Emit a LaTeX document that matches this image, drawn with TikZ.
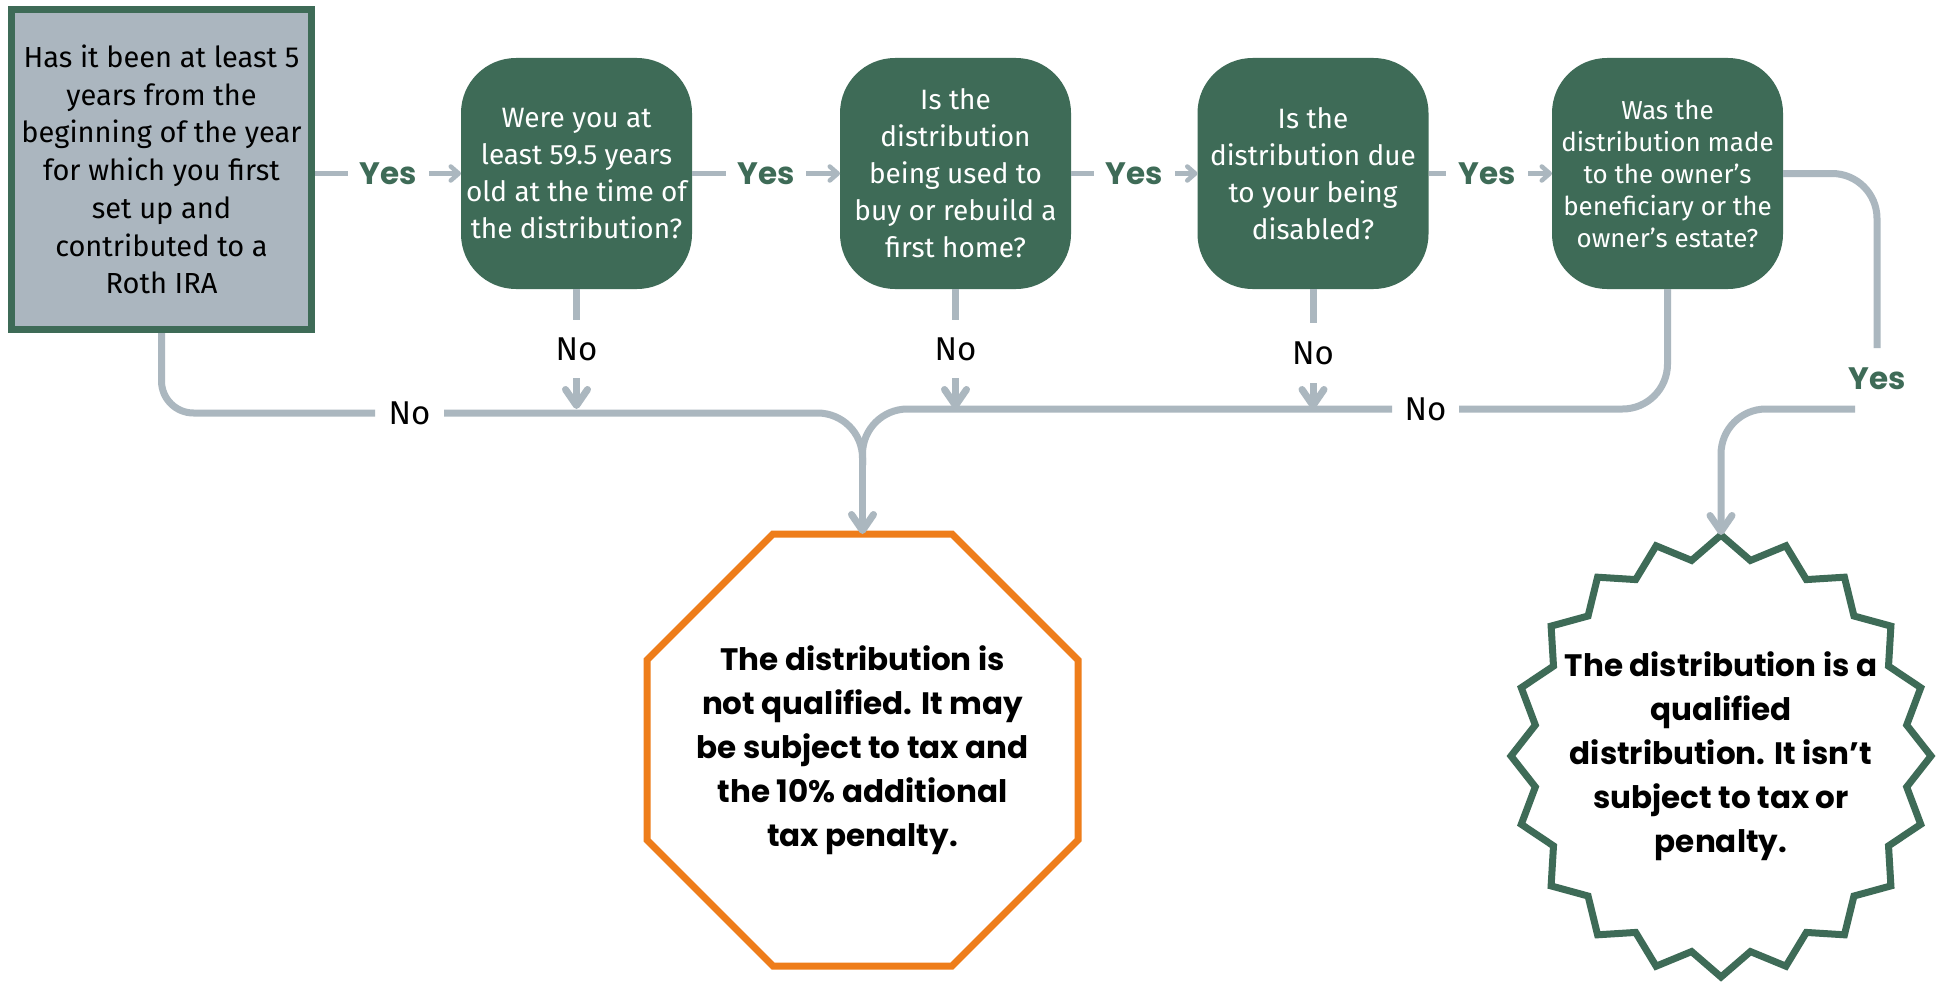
\documentclass[tikz,border=0pt]{standalone}
\usepackage{fontspec}
\setmainfont{Fira Sans}
\newfontfamily\endfont{Poppins}
\newfontfamily\yesfont{Poppins}
\usetikzlibrary{arrows.meta,calc}
\definecolor{dgreen}{HTML}{3E6B57}
\definecolor{lgray}{HTML}{ABB7BF}
\definecolor{boxgray}{HTML}{ABB6BF}
\definecolor{orng}{HTML}{EE7D1A}
\begin{document}
\begin{tikzpicture}[x=1pt,y=-1pt,
  qbox/.style={fill=dgreen, rounded corners=55pt, minimum width=231pt, minimum height=231pt,
    inner sep=0pt, outer sep=0pt, text=white, align=center, font=\fontsize{28}{37}\selectfont},
  yeslbl/.style={text=dgreen, inner sep=0pt, outer sep=0pt, font=\yesfont\bfseries\fontsize{31}{34}\selectfont},
  nolbl/.style={text=black, inner sep=0pt, outer sep=0pt, font=\fontsize{33}{36}\selectfont},
  endtxt/.style={inner sep=0pt, outer sep=0pt, align=center, font=\endfont\bfseries\fontsize{31}{44}\selectfont},
  conn/.style={draw=lgray, line width=7pt},
  yline/.style={draw=lgray, line width=4.5pt},
  bigarr/.style={-{Straight Barb[length=16pt,width=22pt,round]}},
  smallarr/.style={-{Straight Barb[length=8pt,width=14pt,round]}}]
\useasboundingbox (0,0) rectangle (1938,982);
\fill[white] (0,0) rectangle (1938,982);

% start box
\node[draw=dgreen, line width=7pt, fill=boxgray, minimum width=300pt, minimum height=320pt,
  inner sep=0pt, align=center, font=\fontsize{29}{37.7}\selectfont] (start) at (161.5,169.5)
  {Has it been at least 5\\years from the\\beginning of the year\\for which you first\\set up and\\contributed to a\\Roth IRA};

% question boxes
\node[qbox] (A) at (576.5,173.5) {Were you at\\least 59.5 years\\old at the time of\\the distribution?};
\node[qbox] (B) at (955.5,173.5) {Is the\\distribution\\being used to\\buy or rebuild a\\first home?};
\node[qbox] (C) at (1313,173.5) {Is the\\distribution due\\to your being\\disabled?};
\node[qbox, font=\fontsize{26}{32}\selectfont] (D) at (1667.5,173.5) {Was the\\distribution made\\to the owner’s\\beneficiary or the\\owner’s estate?};

% Yes labels
\node[yeslbl, minimum width=81pt] (y1) at (388.5,173.5) {Yes};
\node[yeslbl, minimum width=80pt] (y2) at (766,173.5) {Yes};
\node[yeslbl, minimum width=81pt] (y3) at (1134.5,173.5) {Yes};
\node[yeslbl, minimum width=82pt] (y4) at (1487,173.5) {Yes};
\node[yeslbl, minimum height=61pt] (y5) at (1877,378.5) {Yes};
\coordinate (y5t) at (1855,409);

\draw[yline] (y1 -| start.east) -- (y1.west);
\draw[yline, smallarr] (y1.east) -- (A.west);
\draw[yline] (A.east) -- (y2.west);
\draw[yline, smallarr] (y2.east) -- (B.west);
\draw[yline] (B.east) -- (y3.west);
\draw[yline, smallarr] (y3.east) -- (C.west);
\draw[yline] (C.east) -- (y4.west);
\draw[yline, smallarr] (y4.east) -- (D.west);

% No labels
\node[nolbl, minimum height=58pt] (nA) at (576.5,349) {No};
\node[nolbl, minimum height=58pt] (nB) at (955.5,349) {No};
\node[nolbl, minimum height=60pt] (nC) at (1313,353) {No};
\node[nolbl, minimum width=69pt] (nL) at (409.5,413) {No};
\node[nolbl, minimum width=67pt] (nR) at (1425.5,409) {No};
\coordinate (hl) at (0,409);

% end nodes
\node[endtxt, minimum width=431pt, minimum height=432pt] (lose) at (862.5,750)
  {The distribution is\\not qualified. It may\\be subject to tax and\\the 10\% additional\\tax penalty.};
\draw[orng, line width=7pt] ($(lose.north west)+(126,0)$) -- ($(lose.north east)+(-126,0)$)
  -- ($(lose.north east)+(0,126)$) -- ($(lose.south east)+(0,-126)$)
  -- ($(lose.south east)+(-126,0)$) -- ($(lose.south west)+(126,0)$)
  -- ($(lose.south west)+(0,-126)$) -- ($(lose.north west)+(0,126)$) -- cycle;

\node[endtxt, minimum width=420pt, minimum height=442pt] (win) at (1721,756)
  {The distribution is a\\qualified\\distribution. It isn’t\\subject to tax or\\penalty.};
\draw[dgreen, line width=7pt] ($(win.center)+(90:210 and 221)$)
  \foreach \a in {0,18,...,342}{ -- ($(win.center)+(\a+99:188 and 198)$) -- ($(win.center)+(\a+108:210 and 221)$) } -- cycle;

\coordinate (J) at (862.5,465);

% No connectors
\draw[conn] (A.south) -- (nA.north);
\draw[conn, bigarr] (nA.south) -- (nA.south |- hl);
\draw[conn] (B.south) -- (nB.north);
\draw[conn, bigarr] (nB.south) -- (nB.south |- hl);
\draw[conn] (C.south) -- (nC.north);
\draw[conn, bigarr] (nC.south) -- (nC.south |- hl);

\draw[conn, rounded corners=32pt] (start.south) -- (start.south |- nL) -- (nL.west);
\draw[conn, rounded corners=45pt] (nL.east) -- (lose.north |- nL) -- (J);
\draw[conn, rounded corners=45pt] (D.south) -- (D.south |- nR) -- (nR.east);
\draw[conn, rounded corners=45pt] (nR.west) -- (lose.north |- nR) -- (J);
\draw[conn, bigarr] (J) -- (lose.north);

% Yes to win
\draw[conn, rounded corners=45pt] (D.east) -- (D.east -| y5) -- (y5.north);
\draw[conn, rounded corners=45pt, bigarr] (y5t) -- (win.north |- y5t) -- (win.north);
\end{tikzpicture}
\end{document}
